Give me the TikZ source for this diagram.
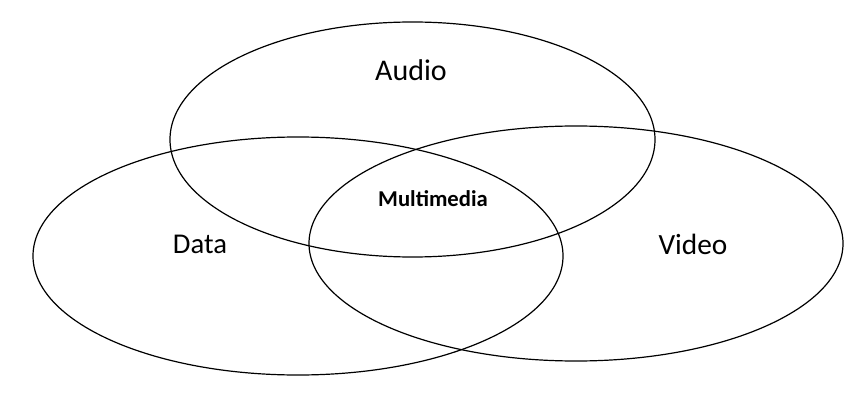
\documentclass[tikz,border=0pt]{standalone}
\usepackage{fontspec}
\setmainfont{Carlito}
\usepackage{tikz}

\begin{document}
\begin{tikzpicture}[x=0.75pt,y=0.75pt,yscale=-1,xscale=1]
    \useasboundingbox (0,0) rectangle (862,413);
    
    %Shape: Ellipse [id:audio] 
    \draw [line width=0.9]  (412.5,139.5) ellipse [x radius=242.5, y radius=117.5] ;
    %Shape: Ellipse [id:data] 
    \draw [line width=0.9]  (298,256) ellipse [x radius=265, y radius=119] ;
    %Shape: Ellipse [id:video] 
    \draw [line width=0.9]  (576,243.5) ellipse [x radius=267, y radius=117.5] ;
    
    % Text Node
    \draw (411,70) node [inner sep=0.75pt] (audio)   {\fontsize{22.5}{27}\selectfont Audio};
    % Text Node
    \draw (200,244) node [inner sep=0.75pt] (data)   {\fontsize{21.5}{26}\selectfont Data};
    % Text Node
    \draw (693,244) node [inner sep=0.75pt] (video)   {\fontsize{22}{26}\selectfont Video};
    % Text Node
    \draw (433,199) node [inner sep=0.75pt] (multimedia)   {\fontsize{17}{20}\selectfont\bfseries Multimedia};
    
\end{tikzpicture}
\end{document}
